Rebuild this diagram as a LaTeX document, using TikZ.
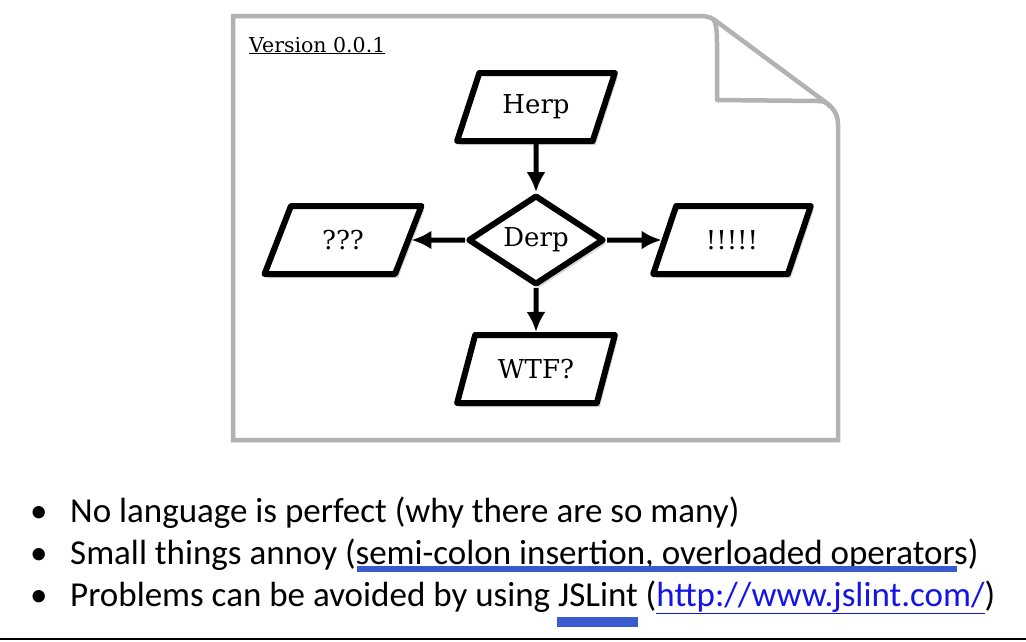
\documentclass[tikz,border=0pt]{standalone}
\usepackage{fontspec}
\setmainfont{Carlito}
\newfontfamily\typefont{DejaVu Serif}
\usetikzlibrary{arrows.meta,shapes.geometric,shadows}
\definecolor{pagegray}{RGB}{178,178,178}
\definecolor{markblue}{RGB}{58,91,208}
\definecolor{linkblue}{RGB}{20,20,230}
\tikzset{
  chart/.style={draw=black, line width=6pt, line join=round, fill=white, font=\typefont\fontsize{26}{30}\selectfont,
    drop shadow={opacity=0.3, shadow xshift=3pt, shadow yshift=-4pt}},
  iobox/.style={chart, trapezium, trapezium left angle=65, trapezium right angle=115,
    trapezium stretches=true, minimum width=158pt, minimum height=68pt},
  choice/.style={chart, diamond, minimum width=136pt, minimum height=68pt, inner sep=0pt},
  flow/.style={line width=5pt, -{Latex[length=20pt,width=19pt]}},
  bullet/.style={anchor=base west, inner sep=0pt, font=\fontsize{35}{40}\selectfont}
}

\begin{document}
\begin{tikzpicture}[x=1pt,y=-1pt]
        \useasboundingbox (0,0) rectangle (1026,641);
        % the page with its folded corner
        \draw[pagegray, line width=4.5pt, fill=white, drop shadow={opacity=0.55, shadow xshift=-1pt, shadow yshift=-2pt}]
          (233,16) -- (700,16) .. controls (708,16) and (712,18) .. (716,21) -- (828,104)
          .. controls (835,110) and (838,116) .. (838,125) -- (838,440) -- (233,440) -- cycle;
        \draw[pagegray, line width=4.5pt, line join=round]
          (714,20) .. controls (717,26) and (717,36) .. (717,46) -- (717,100) -- (818,101)
          .. controls (824,101) and (828,103) .. (830,107);
        \node[anchor=base west, inner sep=0pt, font=\typefont\fontsize{20.5}{22}\selectfont] (ver) at (249,52) {\underline{Version 0.0.1}};
        % flow chart
        \node[iobox] (herp) at (536,107) {Herp};
        \node[choice] (derp) at (536,240) {Derp};
        \node[iobox] (qqq) at (343,240) {???};
        \node[iobox] (bang) at (732,240) {!!!!!};
        \node[iobox] (wtf) at (536,369) {WTF?};
        \draw[flow] (herp.south) -- (derp.north);
        \draw[flow] (derp.west) -- (qqq.east);
        \draw[flow] (derp.east) -- (bang.west);
        \draw[flow] (derp.south) -- (wtf.north);
        % bullet list
        \foreach \y/\n in {522/1,564/2,606/3}
        \node[bullet] (dot\n) at (30,\y) {\textbullet};
        \node[bullet] (l1) at (70,522) {No language is perfect (why there are so many)};
        \node[bullet] (l2) at (70,564) {Small things annoy (semi-colon insertion, overloaded operators)};
        \node[bullet] (l3) at (70,606) {Problems can be avoided by using JSLint (\textcolor{linkblue}{\underline{http://www.jslint.com/}})};
        \fill[markblue] (357,566) rectangle (957,572);
        \fill[markblue] (557,617) rectangle (638,627);
        \draw[line width=2pt] (0,639) -- (1026,639);
\end{tikzpicture}
\end{document}
